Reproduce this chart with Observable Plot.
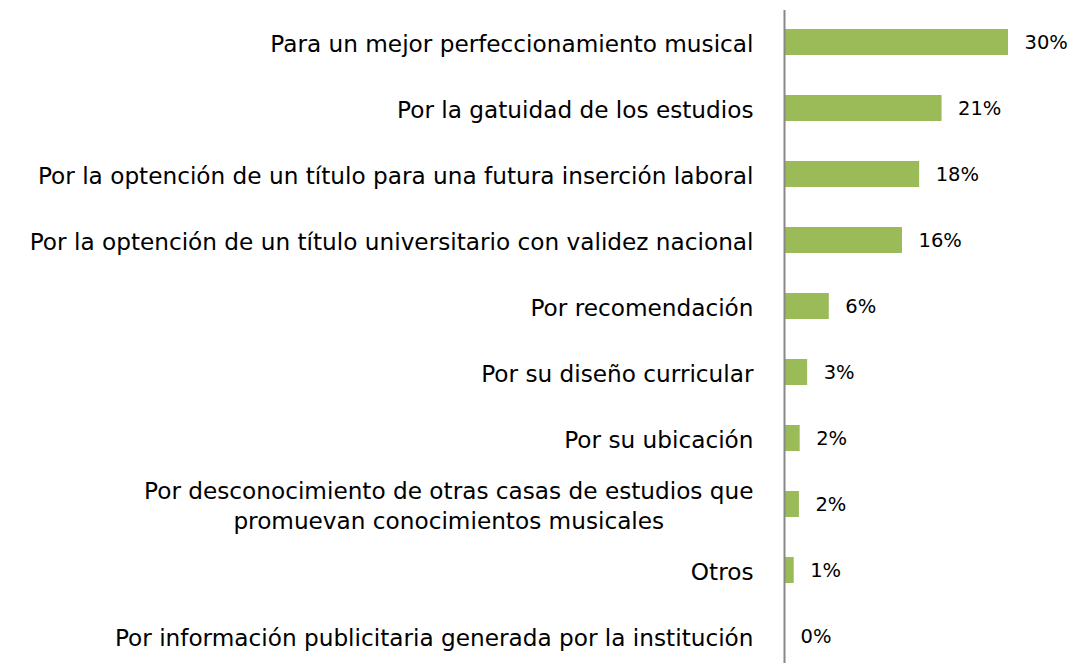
<!DOCTYPE html>
<html>
<head>
<meta charset="utf-8">
<script src="https://cdn.jsdelivr.net/npm/d3@7"></script>
<script src="https://cdn.jsdelivr.net/npm/@observablehq/plot@0.6"></script>
<style>
  html, body { margin: 0; padding: 0; background: #fff; }
  #chart svg { display: block; }
</style>
</head>
<body>
<div id="chart"></div>
<script>
const categories = [
  "Para un mejor perfeccionamiento musical",
  "Por la gatuidad de los estudios",
  "Por la optención de un título para una futura inserción laboral",
  "Por la optención de un título universitario con validez nacional",
  "Por recomendación",
  "Por su diseño curricular",
  "Por su ubicación",
  "Por desconocimiento de otras casas de estudios que\npromuevan conocimientos musicales",
  "Otros",
  "Por información publicitaria generada por la institución"
];
const values = [30, 21.1, 18.1, 15.8, 6.0, 3.1, 2.1, 2.0, 1.3, 0];
const labels = ["30%", "21%", "18%", "16%", "6%", "3%", "2%", "2%", "1%", "0%"];

const data = categories.map((c, i) => ({cat: c, value: values[i], label: labels[i]}));

const FONT = "DejaVu Sans, Verdana, sans-serif";

const chart = Plot.plot({
  width: 1076,
  height: 663,
  marginLeft: 784,
  marginRight: 68,
  marginTop: 10,
  marginBottom: 0,
  style: {fontFamily: FONT, background: "#fff"},
  x: {domain: [0, 30], axis: null},
  y: {domain: categories, axis: null, range: [9, 670], paddingInner: 0.6, paddingOuter: 0.3},
  marks: [
    Plot.barX(data, {x: "value", y: "cat", fill: "#9BBB59"}),
    Plot.ruleX([0], {stroke: "#888888", strokeWidth: 2}),
    Plot.text(data, {x: 0, y: "cat", text: "cat", textAnchor: "end", dx: -31, fontSize: 23.2, fill: "#000", lineHeight: 1.3}),
    Plot.text(data, {x: "value", y: "cat", text: "label", textAnchor: "start", dx: 16, fontSize: 19.5, fill: "#000"})
  ]
});
document.getElementById("chart").appendChild(chart);

// center multi-line category labels (as in the original)
chart.querySelectorAll("text").forEach(t => {
  const spans = t.querySelectorAll("tspan");
  if (spans.length > 1) {
    let maxW = 0;
    spans.forEach(s => { maxW = Math.max(maxW, s.getComputedTextLength()); });
    t.setAttribute("text-anchor", "middle");
    spans.forEach(s => { s.setAttribute("x", -maxW / 2); });
  }
});
</script>
</body>
</html>
